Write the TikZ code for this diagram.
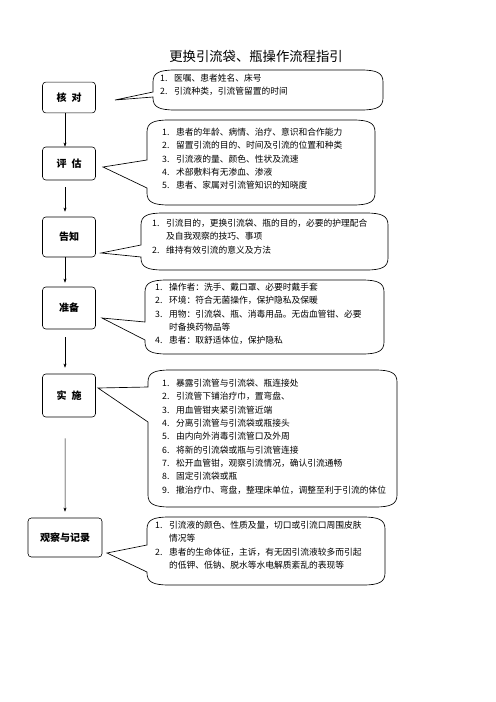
\documentclass[tikz,border=0pt]{standalone}
\usepackage{fontspec}
\setmainfont{Noto Sans CJK SC}
\usetikzlibrary{arrows.meta}
\tikzset{
	stagebox/.style={draw, rounded corners=4pt, line width=0.7pt, minimum width=63.6pt, inner sep=2pt, font=\fontsize{12}{14}\selectfont\bfseries},
	calloutline/.style={draw, line width=0.8pt},
	listtext/.style={anchor=base west, inner sep=0pt, font=\fontsize{10.5}{16}\selectfont},
	flow/.style={-{Stealth[length=5pt,width=3.6pt]}, line width=0.6pt},
}
% frame of a callout: x1, y1, x2, y2, upper and lower end of the wedge, tip
\newcommand\callout[7]{%
	\draw[calloutline] (#1,#5) -- (#1,#2+12) .. controls (#1,#2+3) and (#1+6,#2) .. (#1+22,#2)
		-- (#3-22,#2) .. controls (#3-6,#2) and (#3,#2+3) .. (#3,#2+12)
		-- (#3,#4-12) .. controls (#3,#4-3) and (#3-6,#4) .. (#3-22,#4)
		-- (#1+22,#4) .. controls (#1+6,#4) and (#1,#4-3) .. (#1,#4-12)
		-- (#1,#6) -- (#7) -- cycle;}
\newcommand\nr[1]{\makebox[1.6em][l]{#1}}

\begin{document}
\begin{tikzpicture}[x=1.2pt,y=-1.2pt]
	\useasboundingbox (0,0) rectangle (496,702);
	\node[font=\fontsize{16}{18}\selectfont] (title) at (256,56) {更换引流袋、瓶操作流程指引};

	% stages
	\node[stagebox, minimum height=37pt] (hd) at (69,97.5) {核\hspace{0.5em}对};
	\node[stagebox, minimum height=39.6pt] (pg) at (69,163.5) {评\hspace{0.5em}估};
	\node[stagebox, minimum height=48pt] (gz) at (69,237) {告知};
	\node[stagebox, minimum height=50.4pt] (zb) at (69,308) {准备};
	\node[stagebox, minimum height=51.6pt] (ss) at (69,395.5) {实\hspace{0.5em}施};
	\node[stagebox, minimum height=46.8pt, minimum width=88.8pt] (gc) at (65,537.5) {观察与记录};

	\draw[flow] ([xshift=-4.8pt]hd.south) -- ([xshift=-4.8pt]pg.north);
	\draw[flow, shorten <=8.4pt, shorten >=6pt] ([xshift=-4.8pt]pg.south) -- ([xshift=-4.8pt]gz.north);
	\draw[flow, shorten >=4.8pt] ([xshift=-4.8pt]gz.south) -- ([xshift=-4.8pt]zb.north);
	\draw[flow, shorten <=9.6pt, shorten >=7.2pt] ([xshift=-4.8pt]zb.south) -- ([xshift=-4.8pt]ss.north);
	\draw[flow, shorten <=25.2pt, shorten >=7.2pt] ([xshift=-4.8pt]ss.south) -- (gc.north);

	% callouts
	\coordinate (hd-tip) at (115,100);
	\coordinate (pg-tip) at (103,167);
	\coordinate (gz-tip) at (101,253);
	\coordinate (zb-tip) at (102,318);
	\coordinate (ss-tip) at (98,388);
	\coordinate (gc-tip) at (107,553);
	\callout{153}{70}{383}{110}{92}{97}{hd-tip}
	\callout{147}{120}{375}{205}{160}{188}{pg-tip}
	\callout{141}{213}{388}{270}{245}{257}{gz-tip}
	\callout{145}{280}{384}{354}{322}{340}{zb-tip}
	\callout{148}{370}{397}{507}{387}{422}{ss-tip}
	\callout{147}{517}{385}{585}{545}{572}{gc-tip}

	\node[listtext] (hd-txt) at (160,81.5) {\begin{tabular}[t]{@{}l@{}}
		\nr{1.}医嘱、患者姓名、床号\\
		\nr{2.}引流种类，引流管留置的时间
	\end{tabular}};
	\node[listtext] (pg-txt) at (162,135.5) {\begin{tabular}[t]{@{}l@{}}
		\nr{1.}患者的年龄、病情、治疗、意识和合作能力\\
		\nr{2.}留置引流的目的、时间及引流的位置和种类\\
		\nr{3.}引流液的量、颜色、性状及流速\\
		\nr{4.}术部敷料有无渗血、渗液\\
		\nr{5.}患者、家属对引流管知识的知晓度
	\end{tabular}};
	\node[listtext] (gz-txt) at (152,226.5) {\begin{tabular}[t]{@{}l@{}}
		\nr{1.}引流目的，更换引流袋、瓶的目的，必要的护理配合\\
		\nr{}及自我观察的技巧、事项\\
		\nr{2.}维持有效引流的意义及方法
	\end{tabular}};
	\node[listtext] (zb-txt) at (155,290.5) {\begin{tabular}[t]{@{}l@{}}
		\nr{1.}操作者：洗手、戴口罩、必要时戴手套\\
		\nr{2.}环境：符合无菌操作，保护隐私及保暖\\
		\nr{3.}用物：引流袋、瓶、消毒用品。无齿血管钳、必要\\
		\nr{}时备换药物品等\\
		\nr{4.}患者：取舒适体位，保护隐私
	\end{tabular}};
	\node[listtext] (ss-txt) at (162,386.5) {\begin{tabular}[t]{@{}l@{}}
		\nr{1.}暴露引流管与引流袋、瓶连接处\\
		\nr{2.}引流管下铺治疗巾，置弯盘、\\
		\nr{3.}用血管钳夹紧引流管近端\\
		\nr{4.}分离引流管与引流袋或瓶接头\\
		\nr{5.}由内向外消毒引流管口及外周\\
		\nr{6.}将新的引流袋或瓶与引流管连接\\
		\nr{7.}松开血管钳，观察引流情况，确认引流通畅\\
		\nr{8.}固定引流袋或瓶\\
		\nr{9.}撤治疗巾、弯盘，整理床单位，调整至利于引流的体位
	\end{tabular}};
	\node[listtext] (gc-txt) at (155,528.5) {\begin{tabular}[t]{@{}l@{}}
		\nr{1.}引流液的颜色、性质及量，切口或引流口周围皮肤\\
		\nr{}情况等\\
		\nr{2.}患者的生命体征，主诉，有无因引流液较多而引起\\
		\nr{}的低钾、低钠、脱水等水电解质紊乱的表现等
	\end{tabular}};
\end{tikzpicture}
\end{document}
